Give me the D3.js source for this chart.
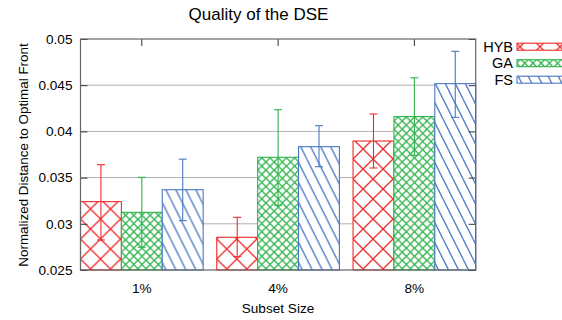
<!DOCTYPE html>
<html>
<head>
<meta charset="utf-8">
<script src="https://cdn.jsdelivr.net/npm/d3@7"></script>
<style>
  body { margin: 0; background: #fff; }
  text { font-family: "Liberation Sans", Arial, Helvetica, sans-serif; fill: #000; }
</style>
</head>
<body>
<div id="chart"></div>
<script>
const categories = ["1%", "4%", "8%"];
const seriesNames = ["HYB", "GA", "FS"];
const meanValues = [
  [0.03240, 0.03124, 0.03369], // 1%
  [0.02854, 0.03720, 0.03835], // 4%
  [0.03896, 0.04160, 0.04517]  // 8%
];
const errLow = [
  [0.02825, 0.02746, 0.03034],
  [0.02644, 0.03200, 0.03618],
  [0.03604, 0.03741, 0.04152]
];
const errHigh = [
  [0.03640, 0.03503, 0.03700],
  [0.03070, 0.04235, 0.04062],
  [0.04188, 0.04580, 0.04867]
];
const yTicks = [0.025, 0.03, 0.035, 0.04, 0.045, 0.05];

const width = 562;
const height = 320;
const margin = { top: 39, right: 86.3, bottom: 50, left: 80.5 };
const chartWidth = width - margin.left - margin.right;
const chartHeight = height - margin.top - margin.bottom;

const colourScale = d3.scaleOrdinal()
  .domain(seriesNames)
  .range(["#ee2a2a", "#2db34a", "#4a78c2"]);

const xScale = d3.scaleBand()
  .domain(categories)
  .range([0, chartWidth])
  .paddingInner(0.1)
  .paddingOuter(0);

const xInner = d3.scaleBand()
  .domain(seriesNames)
  .range([0, xScale.bandwidth()]);

const yScale = d3.scaleLinear()
  .domain([0.025, 0.05])
  .range([chartHeight, 0]);

const svg = d3.select("#chart")
  .append("svg")
  .attr("width", width)
  .attr("height", height);

// fill patterns, one per series
const defs = svg.append("defs");
function addPattern(id, w, h, colour, d) {
  const p = defs.append("pattern")
    .attr("id", id)
    .attr("patternUnits", "userSpaceOnUse")
    .attr("width", w)
    .attr("height", h);
  p.append("rect").attr("width", w).attr("height", h).attr("fill", "#fff");
  p.append("path")
    .attr("d", d)
    .attr("stroke", colour)
    .attr("stroke-width", 1.3)
    .attr("fill", "none");
}
addPattern("pat-HYB", 20, 20, colourScale("HYB"), "M0,0L20,20M20,0L0,20");
addPattern("pat-GA", 8.2, 8.2, colourScale("GA"), "M0,0L8.2,8.2M8.2,0L0,8.2");
addPattern("pat-FS", 10, 20, colourScale("FS"), "M0,0L10,20M-10,0L0,20M10,0L20,20");

const chart = svg.append("g")
  .attr("transform", `translate(${margin.left},${margin.top})`);

// title
svg.append("text")
  .attr("x", 258.5)
  .attr("y", 20)
  .attr("text-anchor", "middle")
  .style("font-size", "17px")
  .text("Quality of the DSE");

// grid lines
chart.append("g")
  .selectAll("line")
  .data(yTicks.slice(1, -1))
  .enter()
  .append("line")
  .attr("x1", 0)
  .attr("x2", chartWidth)
  .attr("y1", d => yScale(d))
  .attr("y2", d => yScale(d))
  .attr("stroke", "#b0b0b0")
  .attr("stroke-width", 1);

// bars
const groups = chart.append("g")
  .selectAll("g")
  .data(categories)
  .enter()
  .append("g")
  .attr("transform", d => `translate(${xScale(d)},0)`);

groups.selectAll("rect")
  .data((c, ci) => seriesNames.map((s, si) => ({ s, v: meanValues[ci][si] })))
  .enter()
  .append("rect")
  .attr("x", d => xInner(d.s))
  .attr("width", xInner.bandwidth())
  .attr("y", d => yScale(d.v))
  .attr("height", d => chartHeight - yScale(d.v))
  .attr("fill", d => `url(#pat-${d.s})`)
  .attr("stroke", d => colourScale(d.s))
  .attr("stroke-width", 1.1);

// error bars
const errs = groups.selectAll("g.err")
  .data((c, ci) => seriesNames.map((s, si) => ({ s, lo: errLow[ci][si], hi: errHigh[ci][si] })))
  .enter()
  .append("g")
  .attr("class", "err")
  .attr("stroke", d => colourScale(d.s))
  .attr("stroke-width", 1.1)
  .attr("transform", d => `translate(${xInner(d.s) + xInner.bandwidth() / 2},0)`);

errs.append("line")
  .attr("y1", d => yScale(d.lo))
  .attr("y2", d => yScale(d.hi));
errs.append("line")
  .attr("x1", -4).attr("x2", 4)
  .attr("y1", d => yScale(d.hi))
  .attr("y2", d => yScale(d.hi));
errs.append("line")
  .attr("x1", -4).attr("x2", 4)
  .attr("y1", d => yScale(d.lo))
  .attr("y2", d => yScale(d.lo));

// axes
const yAxis = d3.axisLeft(yScale)
  .tickValues(yTicks)
  .tickFormat(d3.format("~g"))
  .tickSizeInner(-7)
  .tickSizeOuter(0)
  .tickPadding(8);
const yy = chart.append("g").attr("class", "y axis").call(yAxis);
yy.select(".domain").remove();
yy.selectAll("line").attr("stroke", "#333");
yy.selectAll("text").style("font-size", "13.6px");

const yRight = chart.append("g")
  .attr("transform", `translate(${chartWidth},0)`)
  .call(d3.axisRight(yScale).tickValues(yTicks).tickSizeInner(-7).tickSizeOuter(0).tickFormat(""));
yRight.select(".domain").remove();
yRight.selectAll("line").attr("stroke", "#333");

const xCenter = d => xScale(d) + xScale.bandwidth() / 2;
chart.append("g")
  .selectAll("line")
  .data(categories)
  .enter()
  .append("line")
  .attr("x1", xCenter).attr("x2", xCenter)
  .attr("y1", 0).attr("y2", 7)
  .attr("stroke", "#333");

const xAxis = d3.axisBottom(xScale).tickSize(0).tickPadding(13);
const xx = chart.append("g")
  .attr("class", "x axis")
  .attr("transform", `translate(0,${chartHeight})`)
  .call(xAxis);
xx.select(".domain").remove();
xx.selectAll("text").style("font-size", "13.6px");

// frame
chart.append("rect")
  .attr("width", chartWidth)
  .attr("height", chartHeight)
  .attr("fill", "none")
  .attr("stroke", "#666")
  .attr("stroke-width", 1.2);

// axis labels
svg.append("text")
  .attr("x", 278)
  .attr("y", 313)
  .attr("text-anchor", "middle")
  .style("font-size", "13.6px")
  .text("Subset Size");

svg.append("text")
  .attr("transform", `translate(28,155) rotate(-90)`)
  .attr("text-anchor", "middle")
  .style("font-size", "13.4px")
  .text("Normalized Distance to Optimal Front");

// legend
const legend = svg.append("g")
  .selectAll("g")
  .data(seriesNames)
  .enter()
  .append("g")
  .attr("transform", (d, i) => `translate(0,${46.7 + i * 16.5})`);

legend.append("text")
  .attr("x", 513)
  .attr("dy", "0.36em")
  .attr("text-anchor", "end")
  .style("font-size", "14.5px")
  .text(d => d);

legend.append("rect")
  .attr("x", 517)
  .attr("y", -3.5)
  .attr("width", 50)
  .attr("height", 7)
  .attr("fill", d => `url(#pat-${d})`)
  .attr("stroke", d => colourScale(d))
  .attr("stroke-width", 1.1);
</script>
</body>
</html>
